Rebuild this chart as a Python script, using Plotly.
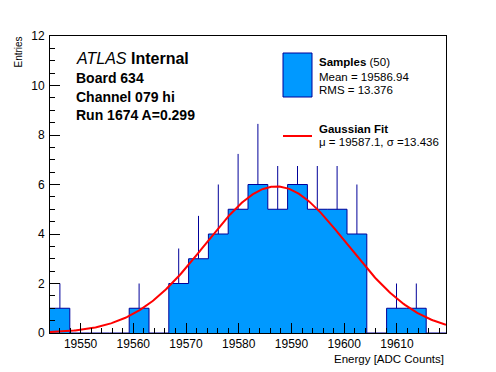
import numpy as np
import plotly.graph_objects as go

# ---- data ----
x_min = 19544.2
x_max = 19619.3
n_bins = 20
counts = [1, 0, 0, 0, 1, 0, 2, 3, 4, 5, 6, 5, 6, 5, 5, 4, 0, 1, 1, 0]
fit_mu = 19587.1
fit_sigma = 13.436
fit_amp = 5.92
x_ticks = [19550, 19560, 19570, 19580, 19590, 19600, 19610]
y_ticks = [0, 2, 4, 6, 8, 10, 12]

# page is offset by the default 8px body margin
OFF = 8
PAGE_W, PAGE_H = 496, 372
W, H = PAGE_W - OFF, PAGE_H - OFF
# plot area in page pixels
X0, X1, Y0, Y1 = 50, 446, 36, 333
L, R, T, B = X0 - OFF, PAGE_W - X1, Y0 - OFF, PAGE_H - Y1
PW, PH = X1 - X0, Y1 - Y0

def px(x):
    return (x - X0) / PW

def py(y):
    return (Y1 - y) / PH

bw = (x_max - x_min) / n_bins
edges = [x_min + i * bw for i in range(n_bins + 1)]
centers = [x_min + (i + 0.5) * bw for i in range(n_bins)]

fill_col = "#0099ff"
edge_col = "#000099"

fig = go.Figure()

# histogram as filled step
step_x = edges
step_y = counts + [counts[-1]]
fig.add_trace(go.Scatter(x=step_x, y=step_y, mode="lines", line_shape="hv",
                         line=dict(color=edge_col, width=1), fill="tozeroy",
                         fillcolor=fill_col, hoverinfo="skip", showlegend=False))

# error bars (upper half)
ec = [c for c, n in zip(centers, counts) if n > 0]
en = [n for n in counts if n > 0]
fig.add_trace(go.Scatter(x=ec, y=en, mode="markers", marker=dict(size=0.1, color=edge_col),
                         error_y=dict(type="data", symmetric=False, array=list(np.sqrt(en)),
                                      arrayminus=[0] * len(en), color=edge_col, thickness=1, width=0),
                         showlegend=False, hoverinfo="skip"))

# gaussian fit
gx = np.linspace(x_min, x_max, 300)
gy = fit_amp * np.exp(-0.5 * ((gx - fit_mu) / fit_sigma) ** 2)
fig.add_trace(go.Scatter(x=gx, y=gy, mode="lines", line=dict(color="#ff0000", width=2),
                         showlegend=False, hoverinfo="skip"))

font = "Liberation Sans, Arial, Helvetica, sans-serif"

fig.update_layout(
    width=W, height=H, margin=dict(l=L, r=R, t=T, b=B, pad=0),
    paper_bgcolor="white", plot_bgcolor="white", showlegend=False,
    font=dict(family=font, size=12, color="black"),
    xaxis=dict(range=[x_min, x_max], tickvals=x_ticks, ticktext=[str(v) for v in x_ticks],
               ticks="inside", ticklen=10, tickcolor="black", showline=True, linecolor="black",
               linewidth=1, mirror=True, showgrid=False, zeroline=False,
               minor=dict(ticks="inside", dtick=2, tick0=19550, ticklen=5, tickcolor="black"),
               tickfont=dict(size=12)),
    yaxis=dict(range=[0, 12], tickvals=y_ticks, ticktext=[str(v) for v in y_ticks],
               ticks="inside", ticklen=10, tickcolor="black", showline=True, linecolor="black",
               linewidth=1, mirror=True, showgrid=False, zeroline=False,
               minor=dict(ticks="inside", dtick=0.5, ticklen=5, tickcolor="black"),
               tickfont=dict(size=12), ticklabelstandoff=2),
)

ann = []
def A(text, x, y, size, xanchor="left", yanchor="middle", angle=0):
    ann.append(dict(text=text, x=px(x), y=py(y), xref="paper", yref="paper", showarrow=False,
                    xanchor=xanchor, yanchor=yanchor, textangle=angle,
                    font=dict(family=font, size=size, color="black")))

A("Entries", 18, 35, 10, xanchor="center", yanchor="top", angle=-90)
A("Energy [ADC Counts]", 446, 359, 11.5, xanchor="right")
A("<i>ATLAS</i> <b>Internal</b>", 74, 58, 16)
A("<b>Board 634</b>", 74, 78, 14)
A("<b>Channel 079 hi</b>", 74, 97, 14)
A("<b>Run 1674 A=0.299</b>", 74, 115, 14)
A("<b>Samples</b> (50)", 317, 62, 11.5)
A("Mean = 19586.94", 317, 77, 11.5)
A("RMS = 13.376", 317, 90, 11.5)
A("<b>Gaussian Fit</b>", 317, 129, 11.5)
A("\u03bc = 19587.1, \u03c3 =13.436", 317, 142, 11.5)
fig.update_layout(annotations=ann)

# legend background (white pave hiding the plot underneath)
fig.add_shape(type="rect", xref="paper", yref="paper", x0=px(271), x1=px(445), y0=py(166), y1=py(37),
              fillcolor="white", line=dict(width=0), layer="above")
fig.add_shape(type="rect", xref="paper", yref="paper", x0=px(283), x1=px(312), y0=py(97), y1=py(53),
              fillcolor=fill_col, line=dict(color=edge_col, width=1), layer="above")
fig.add_shape(type="line", xref="paper", yref="paper", x0=px(283), x1=px(312), y0=py(136), y1=py(136),
              line=dict(color="#ff0000", width=2), layer="above")

fig.write_html("out.html")
